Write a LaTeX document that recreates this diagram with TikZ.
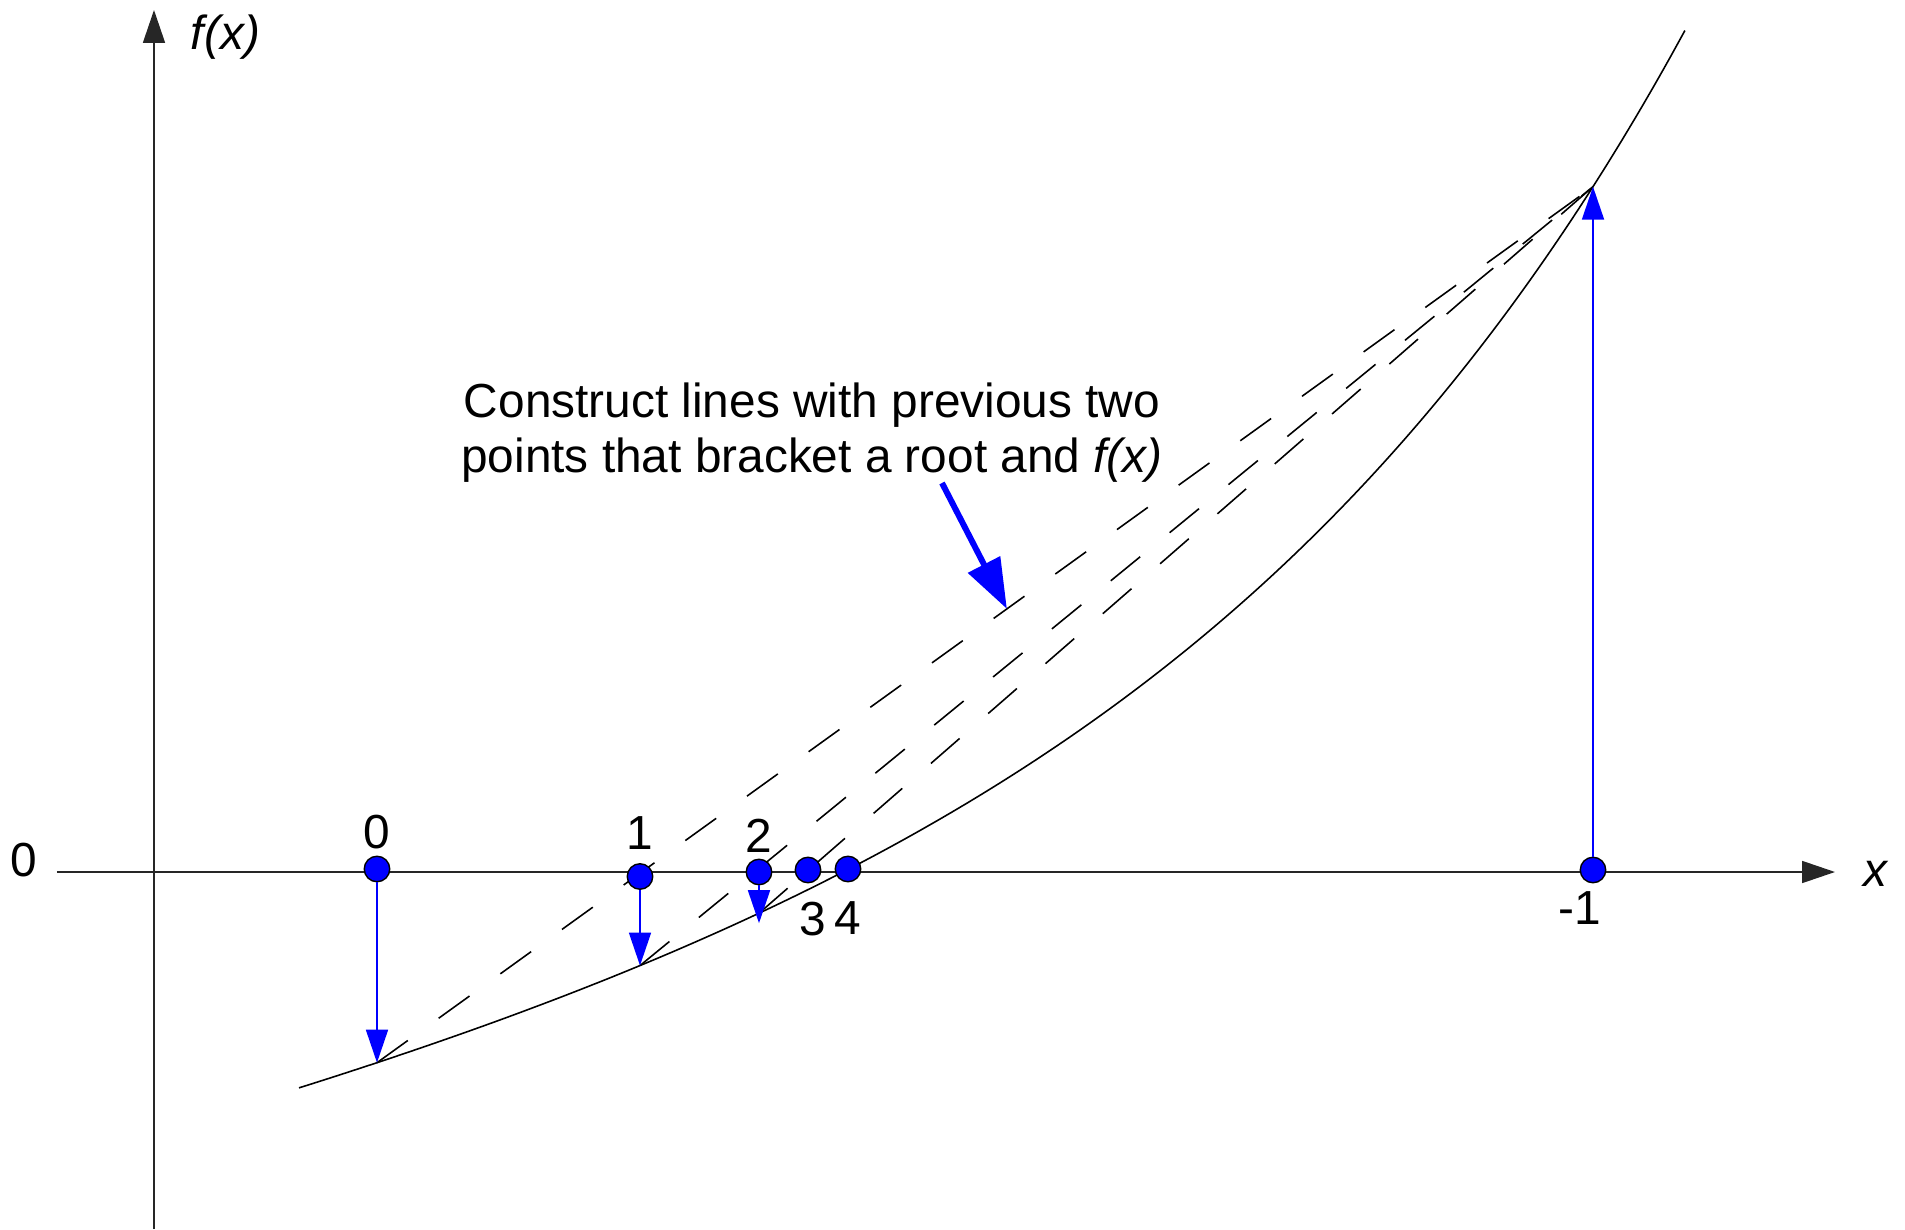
\documentclass[tikz,border=0pt]{standalone}
\usepackage{fontspec}
\setmainfont{Liberation Sans}
\usepackage{tikz}
\usetikzlibrary{arrows.meta,positioning,calc}
\tikzset{
  rf axis/.style={
    line width=0.5pt,
    draw=black!85,
    -{Triangle[length=3.3mm,width=2.2mm]},
  },
  rf curve/.style={line width=0.45pt, black},
  rf secant/.style={line width=0.45pt, black, dash pattern=on 3.8mm off 3.8mm},
  rf dot/.style={
    circle,
    minimum size=2.55mm,
    inner sep=0pt,
    fill=blue,
    draw=black,
    line width=0.4pt,
  },
  rf drop/.style={blue, line width=0.5pt, -{Triangle[length=3.3mm,width=2.2mm]}},
  rf pointer/.style={blue, line width=1.7pt, -{Triangle[length=5mm,width=3.5mm]}},
  rf label/.style={font=\fontsize{13.6}{15.6}\selectfont, inner sep=0pt},
}

\begin{document}
\begin{tikzpicture}[declare function={curvef(\x)=0.2127*(\x-6.89)+1.5104*(exp(0.2*(\x-6.89))-1);}]
  \useasboundingbox (-1.54,-3.57) rectangle (17.51,8.72);
  \coordinate (xl) at (-0.97,0);
  \coordinate (xr) at (16.81,0);
  \coordinate (yb) at (0,-3.57);
  \coordinate (yt) at (0,8.62);
  \draw[rf axis] (xl) -- (xr);
  \draw[rf axis] (yb) -- (yt);
  \node[rf label] (xlab) at (17.22,-0.02) {\textit{x}};
  \node[rf label] (ylab) at (0.715,8.35) {\textit{f(x)}};
  \node[rf label] (zero) at (-1.30,0.12) {0};

  \draw[rf curve] plot[domain=1.45:15.31,samples=90,smooth] (\x,{curvef(\x)});

  \coordinate (c0) at (2.23,{curvef(2.23)});
  \coordinate (c1) at (4.86,{curvef(4.86)});
  \coordinate (c2) at (6.05,{curvef(6.05)});
  \coordinate (cm) at (14.39,{curvef(14.39)});
  \draw[rf secant] (c0) -- (cm);
  \draw[rf secant] (c1) -- (cm);
  \draw[rf secant] (c2) -- (cm);

  \node[rf dot] (d0) at (2.23,0.03) {};
  \node[rf dot] (d1) at (4.86,-0.045) {};
  \node[rf dot] (d2) at (6.05,0) {};
  \node[rf dot] (d3) at (6.54,0.02) {};
  \node[rf dot] (d4) at (6.94,0.03) {};
  \node[rf dot] (dm) at (14.39,0.02) {};

  \draw[rf drop] (d0) -- (c0);
  \draw[rf drop] (d1) -- (c1);
  \draw[rf drop,shorten >=-1mm] (d2) -- (c2);
  \draw[rf drop] (dm) -- (cm);

  \node[rf label,above=0.6mm of d0] (l0) {0};
  \node[rf label,above=1.3mm of d1] (l1) {1};
  \node[rf label,above=0.5mm of d2] (l2) {2};
  \node[rf label,below=1.8mm of d3,xshift=0.5mm] (l3) {3};
  \node[rf label,below=1.8mm of d4] (l4) {4};
  \node[rf label,below=0.75mm of dm,xshift=-1.3mm] (lm) {-1};

  \node[rf label,align=center] (note) at (6.58,4.39)
    {Construct lines with previous two\\points that bracket a root and \textit{f(x)}};
  \coordinate (ptail) at (7.88,3.89);
  \coordinate (ptip) at ($(c0)!0.518!(cm)$);
  \draw[rf pointer] (ptail) -- (ptip);
\end{tikzpicture}
\end{document}
